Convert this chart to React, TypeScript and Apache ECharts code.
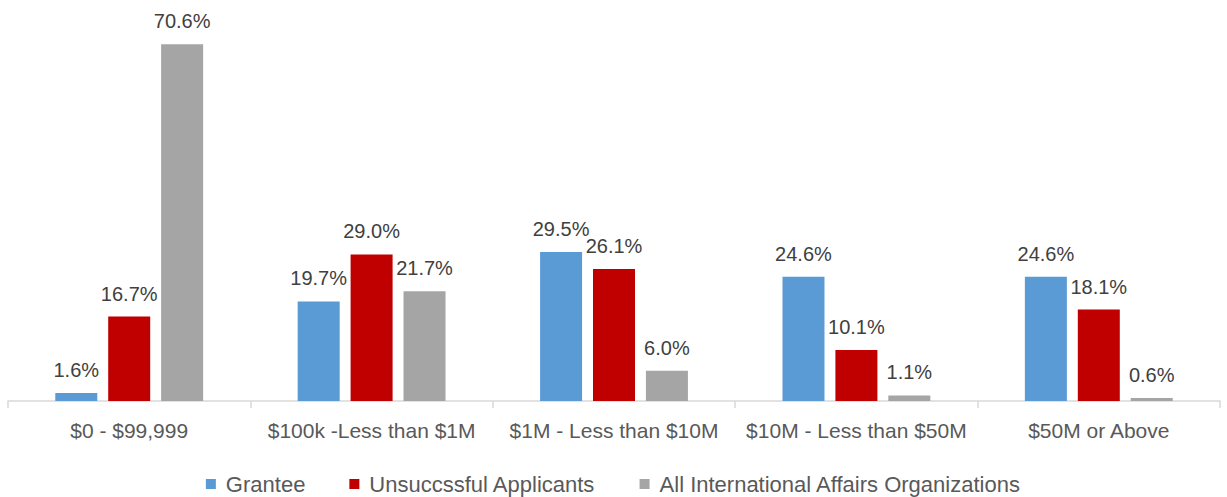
import React, { useEffect, useRef } from "react";
import * as echarts from "echarts";

const categories = ["$0 - $99,999", "$100k -Less than $1M", "$1M - Less than $10M", "$10M - Less than $50M", "$50M or Above"];
const grantee = [1.6, 19.7, 29.5, 24.6, 24.6];
const unsuccessful = [16.7, 29.0, 26.1, 10.1, 18.1];
const allOrgs = [70.6, 21.7, 6.0, 1.1, 0.6];
const seriesNames = ["Grantee", "Unsuccssful Applicants", "All International Affairs Organizations"];
const colors = ["#5b9bd5", "#c00000", "#a5a5a5"];

const FONT = "Liberation Sans";

export default function App() {
  const ref = useRef<HTMLDivElement>(null);
  useEffect(() => {
    const chart = echarts.init(ref.current!, null, { renderer: "svg" });
    const mk = (name: string, data: number[], color: string) => ({
      name,
      type: "bar",
      data,
      barWidth: 42,
      barGap: "26%",
      itemStyle: { color },
      label: {
        show: true,
        position: "top",
        distance: 13,
        formatter: (p: any) => p.value.toFixed(1) + "%",
        color: "#404040",
        fontSize: 20,
        fontFamily: FONT,
      },
    });
    chart.setOption({
      animation: false,
      grid: { left: 8, right: 7, top: 22, bottom: 96 },
      legend: {
        bottom: 2,
        left: "center",
        padding: 0,
        itemWidth: 10,
        itemHeight: 10,
        itemGap: 44,
        icon: "rect",
        textStyle: { color: "#595959", fontSize: 22, fontFamily: FONT, padding: [0, 0, 0, 5] },
        data: seriesNames,
      },
      xAxis: {
        type: "category",
        data: categories,
        axisLine: { lineStyle: { color: "#d9d9d9", width: 1.5 } },
        axisTick: { show: true, interval: 0, length: 7, lineStyle: { color: "#d9d9d9", width: 1.5 } },
        axisLabel: { interval: 0, color: "#595959", fontSize: 21, fontFamily: FONT, margin: 19 },
      },
      yAxis: {
        type: "value",
        min: 0,
        max: 75,
        show: false,
        splitLine: { show: false },
      },
      series: [
        mk(seriesNames[0], grantee, colors[0]),
        mk(seriesNames[1], unsuccessful, colors[1]),
        mk(seriesNames[2], allOrgs, colors[2]),
      ],
    });
    return () => chart.dispose();
  }, []);
  return (
    <div
      ref={ref}
      style={{ position: "fixed", left: 0, top: 0, width: 1227, height: 497, background: "#fff" }}
    />
  );
}
